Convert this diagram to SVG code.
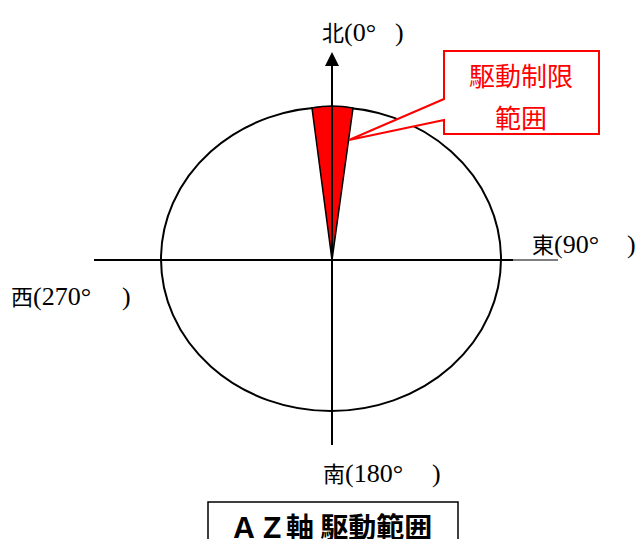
<svg xmlns="http://www.w3.org/2000/svg" width="637" height="539" viewBox="0 0 637 539">
<style>
.lbl{font-family:"Liberation Serif","Noto Sans CJK JP",serif;font-size:26px;fill:#000}
.cj{font-family:"Noto Sans CJK JP",sans-serif;font-size:22px}
.red{font-family:"Noto Sans CJK JP",sans-serif;font-size:26px;fill:#ff0000}
.ttl{font-family:"Noto Sans CJK JP",sans-serif;font-size:28px;font-weight:bold;fill:#000}
</style>
<rect width="637" height="539" fill="#fff"/>
<g id="dial">
<ellipse cx="331" cy="259" rx="170" ry="152" fill="none" stroke="#000" stroke-width="2"/>
<path d="M312,108 Q332,104 353,108 L332,260 Z" fill="#ff0000" stroke="#000" stroke-width="1.5"/>
</g>
<g id="connectors">
<line x1="94" y1="260" x2="513" y2="260" stroke="#000" stroke-width="2"/>
<line x1="513" y1="260" x2="558" y2="260" stroke="#000" stroke-width="1"/>
<line x1="332" y1="64" x2="332" y2="445" stroke="#000" stroke-width="2"/>
<polygon points="332,52 325,66 339,66" fill="#000"/>
</g>
<g id="north"><text class="lbl" x="322" y="41"><tspan class="cj">北</tspan>(0°<tspan dx="19">)</tspan></text></g>
<g id="east"><text class="lbl" x="532" y="253"><tspan class="cj">東</tspan>(90°<tspan dx="28">)</tspan></text></g>
<g id="west"><text class="lbl" x="11" y="305"><tspan class="cj">西</tspan>(270°<tspan dx="31">)</tspan></text></g>
<g id="south"><text class="lbl" x="323" y="482"><tspan class="cj">南</tspan>(180°<tspan dx="29">)</tspan></text></g>
<g id="callout">
<path d="M444,51 H599 V134 H444 V120 L349,140 L444,99 Z" fill="#fff" stroke="#ff0000" stroke-width="2" stroke-linejoin="miter"/>
<text class="red" x="521" y="86" text-anchor="middle">駆動制限</text>
<text class="red" x="521" y="128" text-anchor="middle">範囲</text>
</g>
<g id="title">
<rect x="208" y="502" width="250" height="50" fill="#fff" stroke="#000" stroke-width="1.5"/>
<text class="ttl" x="230" y="538">ＡＺ軸 駆動範囲</text>
</g>
</svg>
